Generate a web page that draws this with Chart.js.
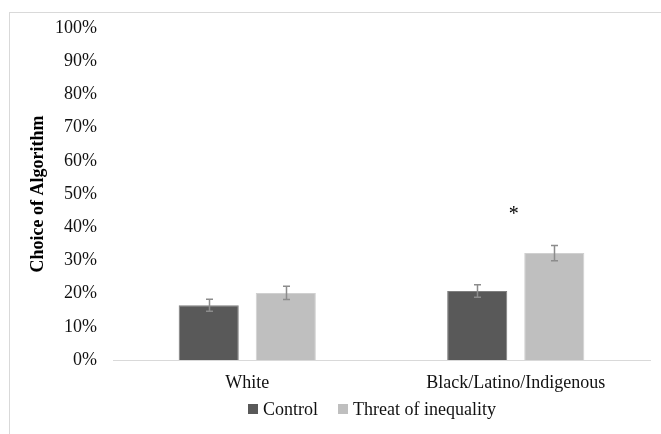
<!DOCTYPE html>
<html>
<head>
<meta charset="utf-8">
<script src="https://cdn.jsdelivr.net/npm/chart.js@4/dist/chart.umd.min.js"></script>
<style>
  html, body { margin: 0; padding: 0; background: #fff; }
  #wrap { position: relative; width: 661px; height: 434px; overflow: hidden; }
  #frame { position: absolute; left: 9px; top: 12px; width: 700px; height: 500px;
           border-left: 1px solid #d9d9d9; border-top: 1px solid #d9d9d9; }
  canvas { position: absolute; left: 0; top: 0; }
  #legend { position: absolute; left: 248px; top: 398px; height: 22px; display: flex;
            align-items: center; font-family: "Liberation Serif", "Times New Roman", serif;
            font-size: 18px; color: #111; white-space: nowrap; }
  #legend .item { display: flex; align-items: center; margin-right: 20px; }
  #legend .box { width: 10px; height: 10px; margin-right: 5px; }
</style>
</head>
<body>
<div id="wrap">
  <div id="frame"></div>
  <canvas id="c" width="661" height="434"></canvas>
  <div id="legend"></div>
</div>
<script>
// Groups and condition means (percent choosing the algorithm)
const groups = ['White', 'Black/Latino/Indigenous'];
const seriesNames = ['Control', 'Threat of inequality'];
const controlValues = [16.5, 20.8];
const threatValues = [20.2, 32.2];
// Standard errors for each bar
const controlErrors = [1.8, 1.9];
const threatErrors = [2.0, 2.3];
// Significance markers per group
const significance = ['', '*'];
const yTicks = [0, 10, 20, 30, 40, 50, 60, 70, 80, 90, 100];

const serif = '"Liberation Serif", "Times New Roman", serif';

const errorBars = {
  id: 'errorBars',
  afterDatasetsDraw(chart) {
    const ctx = chart.ctx;
    const y = chart.scales.y;
    const errs = [controlErrors, threatErrors];
    ctx.save();
    ctx.strokeStyle = '#8c8c8c';
    ctx.lineWidth = 1.5;
    chart.data.datasets.forEach((ds, di) => {
      const meta = chart.getDatasetMeta(di);
      meta.data.forEach((bar, i) => {
        const v = ds.data[i], e = errs[di][i];
        const x = Math.round(bar.x) + 0.5;
        const yt = y.getPixelForValue(v + e), yb = y.getPixelForValue(v - e);
        ctx.beginPath();
        ctx.moveTo(x, yt); ctx.lineTo(x, yb);
        ctx.moveTo(x - 3.5, yt); ctx.lineTo(x + 3.5, yt);
        ctx.moveTo(x - 3.5, yb); ctx.lineTo(x + 3.5, yb);
        ctx.stroke();
      });
    });
    // significance markers above each group
    ctx.fillStyle = '#000';
    ctx.font = '20px ' + serif;
    ctx.textAlign = 'center';
    ctx.textBaseline = 'alphabetic';
    significance.forEach((s, i) => {
      if (!s) return;
      const top = Math.max(controlValues[i] + controlErrors[i], threatValues[i] + threatErrors[i]);
      const x = chart.scales.x.getPixelForValue(i) - 2;
      ctx.fillText(s, x, y.getPixelForValue(top) - 25);
    });
    ctx.restore();
  }
};

const chart = new Chart(document.getElementById('c'), {
  type: 'bar',
  data: {
    labels: groups,
    datasets: [
      { label: seriesNames[0], data: controlValues, backgroundColor: '#595959',
        borderColor: '#7f7f7f', borderWidth: 1 },
      { label: seriesNames[1], data: threatValues, backgroundColor: '#bfbfbf',
        borderColor: '#d0d0d0', borderWidth: 1 }
    ]
  },
  options: {
    responsive: false,
    animation: false,
    devicePixelRatio: 1,
    categoryPercentage: 0.574,
    barPercentage: 0.78,
    layout: { padding: { left: 0, right: 11, top: 28, bottom: 34 } },
    plugins: {
      tooltip: { enabled: false },
      legend: { display: false }
    },
    scales: {
      x: {
        afterFit(scale) { scale.height = 40; },
        grid: { display: false, drawTicks: false },
        border: { display: true, color: '#d9d9d9', width: 1 },
        ticks: { color: '#111', padding: 12, font: { family: serif, size: 18 } }
      },
      y: {
        min: 0, max: 100,
        afterBuildTicks(scale) { scale.ticks = yTicks.map(v => ({ value: v })); },
        afterFit(scale) { scale.width = 113; },
        grid: { display: false, drawTicks: false },
        border: { display: false },
        ticks: { color: '#111', padding: 16, font: { family: serif, size: 18 },
                 callback: v => v + '%' },
        title: { display: true, text: 'Choice of Algorithm', color: '#000',
                 padding: { top: 28, bottom: 0 },
                 font: { family: serif, size: 18, weight: 'bold' } }
      }
    }
  },
  plugins: [errorBars]
});

// Legend built from the chart's datasets
const legend = document.getElementById('legend');
chart.data.datasets.forEach(ds => {
  const item = document.createElement('div');
  item.className = 'item';
  const box = document.createElement('span');
  box.className = 'box';
  box.style.background = ds.backgroundColor;
  const label = document.createElement('span');
  label.textContent = ds.label;
  item.appendChild(box);
  item.appendChild(label);
  legend.appendChild(item);
});
</script>
</body>
</html>
